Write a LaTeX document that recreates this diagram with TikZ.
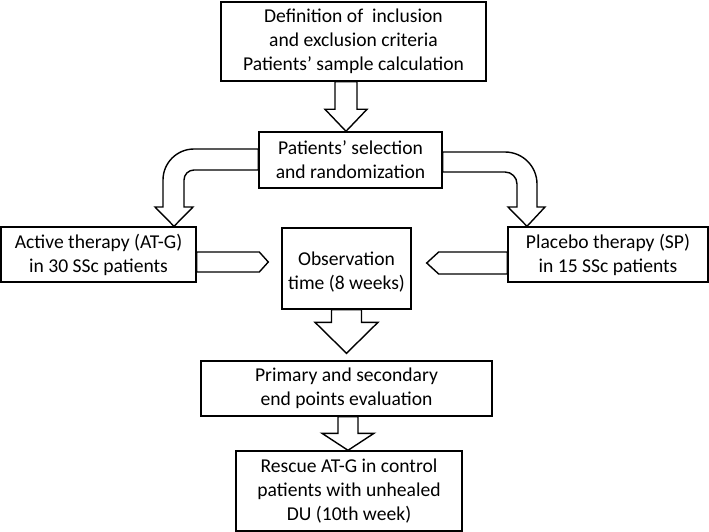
\documentclass[tikz,border=0pt]{standalone}
\usepackage{fontspec}
\setmainfont{Carlito}
\usetikzlibrary{calc}
\tikzset{
  box/.style={draw, line width=1.4pt, fill=white, align=center, inner sep=0pt,
    font=\fontsize{19.6}{24}\selectfont},
  txt/.style={align=center, inner sep=0pt, font=\fontsize{19.6}{24}\selectfont},
  blk/.style={draw, line width=1.4pt, fill=white, line join=miter},
}
% #1 start, #2 tip, #3 shaft half width, #4 head half width, #5 head length
\newcommand\blkdown[5]{%
  \draw[blk] let \p1=(#1), \p2=(#2) in
    (\x2-#3pt,\y1) -- (\x2-#3pt,\y2+#5pt) -- (\x2-#4pt,\y2+#5pt) -- (\x2,\y2)
    -- (\x2+#4pt,\y2+#5pt) -- (\x2+#3pt,\y2+#5pt) -- (\x2+#3pt,\y1) -- cycle;}
% #1 start, #2 tip, #3 half width, #4 taper length (signed)
\newcommand\blkside[4]{%
  \draw[blk] let \p1=(#1), \p2=(#2) in
    (\x1,\y2+#3pt) -- (\x2-#4pt,\y2+#3pt) -- (\x2,\y2) -- (\x2-#4pt,\y2-#3pt)
    -- (\x1,\y2-#3pt) -- cycle;}
\begin{document}
\begin{tikzpicture}[x=1pt,y=-1pt]
\useasboundingbox (0,0) rectangle (709,532);

\node[box, minimum width=265pt, minimum height=79pt] (top) at (353.5,41.5)
  {Definition of\ \ inclusion\\and exclusion criteria\\Patients’ sample calculation};
\node[box, minimum width=183pt, minimum height=56pt] (sel) at (350.5,160)
  {Patients’ selection\\and randomization};
\node[box, minimum width=195pt, minimum height=55pt] (act) at (98.5,254.5)
  {Active therapy (AT-G)\\in 30 SSc patients};
\node[box, minimum width=200pt, minimum height=55pt] (plc) at (608,254.5)
  {Placebo therapy (SP)\\in 15 SSc patients};
\node[box, minimum width=129pt, minimum height=81pt] (obs) at (346.5,268.5) {};
\node[txt] (obstxt) at (346.5,272) {Observation\\time (8 weeks)};
\node[box, minimum width=291pt, minimum height=55pt] (prim) at (346.5,388.5)
  {Primary and secondary\\end points evaluation};
\node[box, minimum width=226pt, minimum height=80pt] (resc) at (349,491)
  {Rescue AT-G in control\\patients with unhealed\\DU (10th week)};

% straight block arrows
\blkdown{top.south}{$(sel.north)+(-4.5,0)$}{11}{21}{22}
\blkdown{obs.south}{$(prim.north)+(0,-7)$}{15}{31.5}{31}
\blkdown{prim.south}{$(resc.north)+(-1,0)$}{10}{26}{17}
\blkside{act.east}{$(obs.west)+(-13,-6.5)$}{10}{9}
\blkside{plc.west}{$(obs.east)+(15,-5.5)$}{11}{-12}

% curved block arrows
\draw[blk] (sel.west |- 0,149) -- (194,149) arc[start angle=270,end angle=180,radius=31]
  -- (163,207) -- (155,207) -- (174,0 |- act.north) -- (193,207) -- (184,207)
  -- (184,180) arc[start angle=180,end angle=270,radius=10] -- (sel.west |- 0,170) -- cycle;
\draw[blk] (sel.east |- 0,152) -- (505,152) arc[start angle=270,end angle=360,radius=32]
  -- (537,207) -- (545,207) -- (527,0 |- plc.north) -- (508,207) -- (517,207)
  -- (517,184) arc[start angle=0,end angle=-90,radius=12] -- (sel.east |- 0,172) -- cycle;

% redraw box outlines on top of arrow ends
\foreach \n in {top,sel,act,plc,obs,prim,resc}{\draw[line width=1.4pt] (\n.south west) rectangle (\n.north east);}
\end{tikzpicture}
\end{document}
